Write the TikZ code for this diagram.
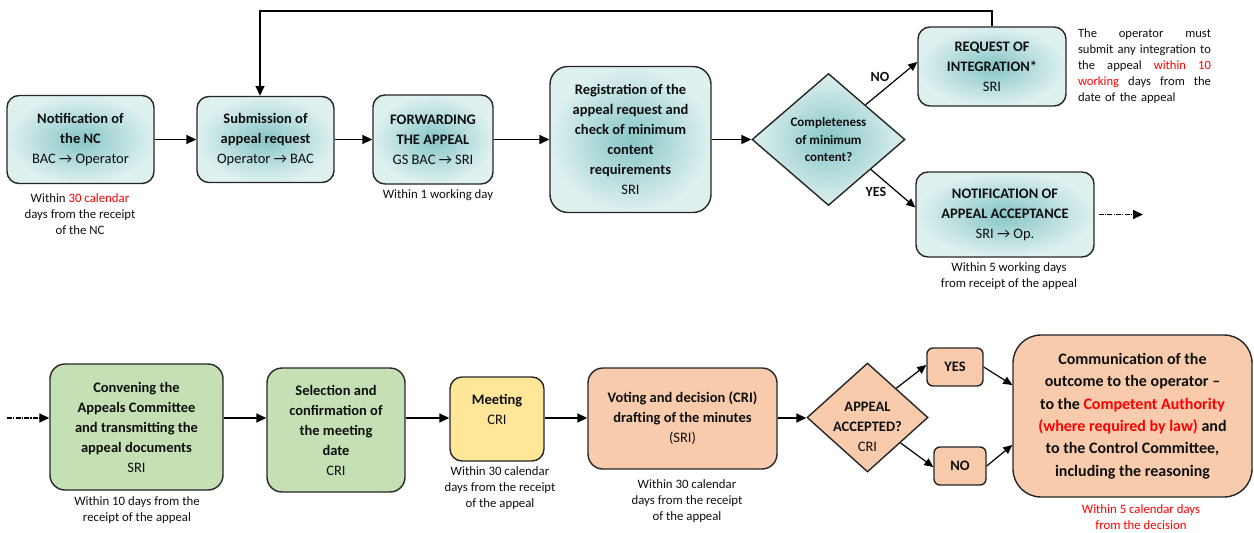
\documentclass[tikz,border=0pt]{standalone}
\usepackage{fontspec}
\setmainfont{Carlito}
\usetikzlibrary{shapes.geometric,arrows.meta,calc}
\definecolor{bdr}{RGB}{38,38,38}
\definecolor{tealin}{RGB}{135,198,198}
\definecolor{tealout}{RGB}{222,240,240}
\definecolor{grn}{RGB}{197,224,180}
\definecolor{ylw}{RGB}{255,230,153}
\definecolor{org}{RGB}{248,203,173}
\definecolor{rd}{RGB}{255,0,0}
\definecolor{txt}{RGB}{15,15,15}
\begin{document}
\begin{tikzpicture}[x=1pt,y=-1pt,
  box/.style={draw=bdr, line width=1.4pt, align=center, inner sep=0pt,
    font=\fontsize{14.5}{20}\selectfont, text=txt},
  tealbox/.style={box, rounded corners=12pt, shading=radial, inner color=tealin, outer color=tealout},
  grnbox/.style={box, rounded corners=15pt, fill=grn},
  ylwbox/.style={box, rounded corners=12pt, fill=ylw},
  orgbox/.style={box, rounded corners=15pt, fill=org},
  dia/.style={diamond, draw=bdr, line width=1.4pt, inner sep=0pt},
  diatext/.style={align=center, inner sep=0pt, text=txt},
  note/.style={align=center, inner sep=0pt, font=\fontsize{12.8}{16}\selectfont, text=txt},
  lbl/.style={inner sep=0pt, font=\fontsize{14}{16}\selectfont\bfseries, text=txt},
  arr/.style={line width=1.6pt, draw=black, -{Triangle[length=10pt,width=9pt]}},
  arrthin/.style={line width=1.2pt, draw=black, -{Triangle[length=9pt,width=8pt]}},
  darr/.style={arr, dash pattern=on 5pt off 1.2pt on 1.2pt off 1.2pt}
]
\useasboundingbox (0,0) rectangle (1254,533);

% ---------- top row ----------
\node[tealbox, minimum width=147pt, minimum height=88pt] (nc) at (80.5,139.5)
  {\textbf{Notification of}\\\textbf{the NC}\\BAC → Operator};
\node[tealbox, minimum width=137pt, minimum height=86pt] (sub) at (265.5,139.5)
  {\textbf{Submission of}\\\textbf{appeal request}\\Operator → BAC};
\node[tealbox, minimum width=120pt, minimum height=89pt] (fwd) at (433,139.5)
  {\textbf{FORWARDING}\\\textbf{THE APPEAL}\\GS BAC → SRI};
\node[tealbox, rounded corners=18pt, minimum width=161pt, minimum height=146pt] (reg) at (630.5,139.5)
  {\textbf{Registration of the}\\\textbf{appeal request and}\\\textbf{check of minimum}\\\textbf{content}\\\textbf{requirements}\\SRI};
\node[dia, shading=radial, inner color=tealin, outer color=tealout,
  minimum width=153pt, minimum height=132pt] (d1) at (828.5,139.5) {};
\node[diatext, font=\fontsize{13}{17.5}\selectfont\bfseries] (d1t) at (828.5,139.5)
  {Completeness\\of minimum\\content?};
\node[tealbox, minimum width=148pt, minimum height=79pt] (req) at (992,66.5)
  {\textbf{REQUEST OF}\\\textbf{INTEGRATION*}\\SRI};
\node[tealbox, minimum width=178pt, minimum height=85pt] (notif) at (1005,214.5)
  {\textbf{NOTIFICATION OF}\\\textbf{APPEAL ACCEPTANCE}\\SRI → Op.};

\node[note] (n1) at (80,214) {Within \textcolor{rd}{30 calendar}\\days from the receipt\\of the NC};
\node[note] (n2) at (438,195.5) {Within 1 working day};
\node[note] (n3) at (1009,276) {Within 5 working days\\from receipt of the appeal};
\node[note, font=\fontsize{12.6}{16}\selectfont, align=left, text width=133pt] (side) at (1144.5,66)
  {\makebox[133pt]{The\hfill operator\hfill must}\\
   \makebox[133pt]{submit\hfill any\hfill integration\hfill to}\\
   \makebox[133pt]{the\hfill appeal\hfill \textcolor{rd}{within}\hfill \textcolor{rd}{10}}\\
   \makebox[133pt]{\textcolor{rd}{working}\hfill days\hfill from\hfill the}\\
   date of the appeal};
\node[lbl] (lno) at (880,77) {NO};
\node[lbl] (lyes) at (876,192) {YES};

\draw[arr] (nc) -- (sub);
\draw[arr] (sub) -- (fwd);
\draw[arr] (fwd) -- (reg);
\draw[arr] (reg) -- (d1);
\coordinate (fb1) at (992,11);
\coordinate (fb2) at (260,11);
\draw[arr] (req.north) -- (fb1) -- (fb2) -- (sub.north -| fb2);
\draw[arrthin] ($(d1.north)!0.48!(d1.east)$) -- ([yshift=4.5pt]req.west);
\draw[arrthin] ($(d1.east)!0.45!(d1.south)$) -- ([yshift=7pt]notif.west);
\coordinate (dend) at (1143,214.5);
\draw[darr] ([xshift=4pt]notif.east) -- (dend);

% ---------- bottom row ----------
\coordinate (bstart) at (7,418);
\node[grnbox, minimum width=173pt, minimum height=126pt] (conv) at (136.5,427)
  {\textbf{Convening the}\\\textbf{Appeals Committee}\\\textbf{and transmitting the}\\\textbf{appeal documents}\\SRI};
\node[grnbox, minimum width=138pt, minimum height=124pt] (sel) at (336,430)
  {\textbf{Selection and}\\\textbf{confirmation of}\\\textbf{the meeting}\\\textbf{date}\\CRI};
\node[ylwbox, minimum width=94pt, minimum height=84pt] (meet) at (497,419)
  {\textbf{Meeting}\\CRI\\\mbox{}};
\node[orgbox, minimum width=189pt, minimum height=101pt] (vote) at (682.5,418.5)
  {\textbf{Voting and decision (CRI)}\\\textbf{drafting of the minutes}\\(SRI)};
\node[dia, fill=org, minimum width=121pt, minimum height=109pt] (d2) at (867.5,417.5) {};
\node[diatext, font=\fontsize{14.5}{20}\selectfont] (d2t) at (867.5,427)
  {\textbf{APPEAL}\\\textbf{ACCEPTED?}\\CRI};
\node[orgbox, rounded corners=6pt, minimum width=56pt, minimum height=38pt] (yes) at (955,367)
  {\textbf{YES}};
\node[orgbox, rounded corners=6pt, minimum width=52pt, minimum height=38pt] (no) at (960,466)
  {\textbf{NO}};
\node[orgbox, rounded corners=28pt, minimum width=239pt, minimum height=162pt,
  font=\fontsize{16}{22.3}\selectfont\bfseries] (comm) at (1132.5,416)
  {Communication of the\\outcome to the operator –\\to the \textcolor{rd}{Competent Authority}\\\textcolor{rd}{(where required by law)} and\\to the Control Committee,\\including the reasoning};

\node[note] (n4) at (137,510) {Within 10 days from the\\receipt of the appeal};
\node[note] (n5) at (500,488) {Within 30 calendar\\days from the receipt\\of the appeal};
\node[note] (n6) at (687,501) {Within 30 calendar\\days from the receipt\\of the appeal};
\node[note, text=rd] (n7) at (1141,517) {Within 5 calendar days\\from the decision};

\draw[darr] (bstart) -- (conv.west |- bstart);
\draw[arr] (conv.east |- bstart) -- (sel.west |- bstart);
\draw[arr] (sel.east |- bstart) -- (meet.west |- bstart);
\draw[arr] (meet.east |- bstart) -- (vote.west |- bstart);
\draw[arr] (vote.east |- bstart) -- (d2.west |- bstart);
\draw[arrthin] ($(d2.north)!0.47!(d2.east)$) -- ([yshift=2pt]yes.west);
\draw[arrthin] ($(d2.east)!0.46!(d2.south)$) -- ([yshift=-1pt]no.west);
\draw[arrthin] (yes.east) -- ([yshift=31pt]comm.west);
\draw[arrthin] (no.east) -- ([yshift=-29pt]comm.west);
\end{tikzpicture}
\end{document}
